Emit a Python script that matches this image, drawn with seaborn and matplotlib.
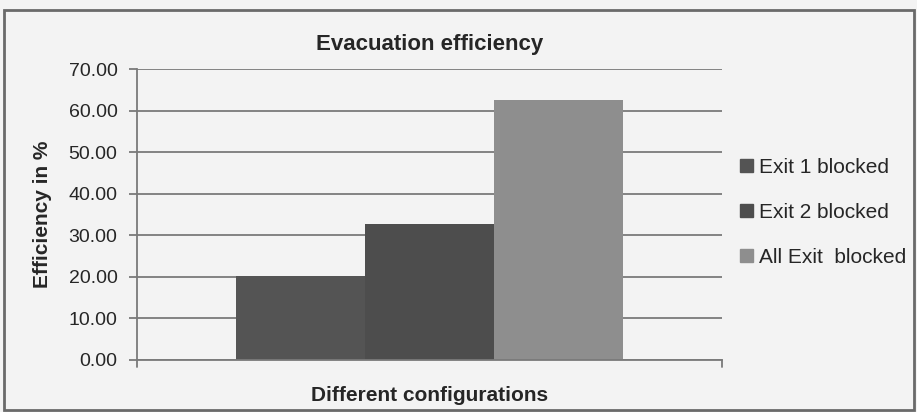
import pandas as pd
import seaborn as sns
import matplotlib.pyplot as plt
from matplotlib.patches import Rectangle

# dados
configuracoes = ["Exit 1 blocked", "Exit 2 blocked", "All Exit  blocked"]
eficiencia = [20.1, 32.6, 62.6]
categoria = [""] * 3
cores = ["#545454", "#4d4d4d", "#8e8e8e"]
yticks = [0, 10, 20, 30, 40, 50, 60, 70]

base = pd.DataFrame({"cat": categoria, "config": configuracoes, "ef": eficiencia})

sns.set_style("white")
plt.rcParams["font.family"] = ["Liberation Sans", "DejaVu Sans"]

fig = plt.figure(figsize=(9.17, 4.12), dpi=100)
fig.patch.set_facecolor("#f3f3f3")
ax = fig.add_axes([137 / 917, 1 - 360 / 412, 585 / 917, 291 / 412])
ax.set_facecolor("#f3f3f3")

sns.barplot(data=base, x="cat", y="ef", hue="config", hue_order=configuracoes,
            palette=cores, width=0.66, saturation=1, ax=ax, legend=False,
            linewidth=0, edgecolor="none")

ax.set_ylim(0, 70)
ax.set_xlim(-0.5, 0.5)
ax.set_yticks(yticks)
ax.set_yticklabels([f"{v:.2f}" for v in yticks], fontsize=14)
ax.set_xticks([])
ax.yaxis.grid(True, color="#7a7a7a", linewidth=1.3)
ax.set_axisbelow(True)
for s in ["top", "right"]:
    ax.spines[s].set_visible(False)
ax.spines["left"].set_color("#7a7a7a")
ax.spines["bottom"].set_color("#7a7a7a")
ax.spines["left"].set_linewidth(1.3)
ax.spines["bottom"].set_linewidth(1.3)
ax.tick_params(axis="y", length=6, color="#7a7a7a", width=1.3, left=True, pad=8)
for xx in [-0.5, 0.5]:
    ax.plot([xx, xx], [0, -1.6], color="#7a7a7a", lw=1.3, clip_on=False)

ax.set_title("Evacuation efficiency", fontsize=16, fontweight="bold", pad=14)
ax.set_ylabel("Efficiency in %", fontsize=15, fontweight="bold", labelpad=12)
ax.set_xlabel("Different configurations", fontsize=15, fontweight="bold", labelpad=19)

handles = [Rectangle((0, 0), 1, 1, color=c) for c in cores]
fig.legend(handles, configuracoes, loc="center left", bbox_to_anchor=(0.787, 0.485),
           frameon=False, fontsize=15, handlelength=0.6, handleheight=0.6,
           handletextpad=0.3, labelspacing=1.25)

fig.add_artist(Rectangle((4 / 917, 2 / 412), 910 / 917, 400 / 412, fill=False,
                         edgecolor="#6a6a6a", linewidth=2, transform=fig.transFigure))

plt.savefig("out.png", dpi=100, facecolor=fig.get_facecolor())
